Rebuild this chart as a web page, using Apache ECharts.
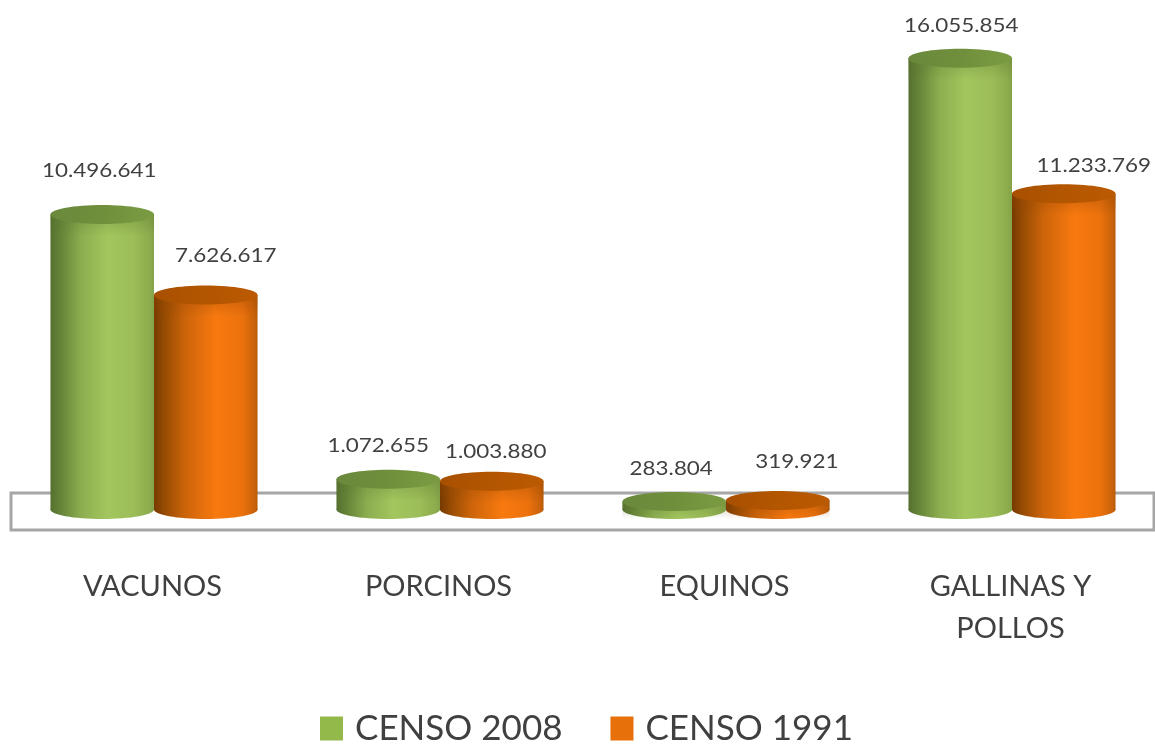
<!DOCTYPE html>
<html><head><meta charset="utf-8">
<style>html,body{margin:0;padding:0;background:#fff}#c{width:1155px;height:745px;filter:blur(0.6px)}</style>
<script src="https://cdn.jsdelivr.net/npm/echarts@6/dist/echarts.min.js"></script>
</head><body><div id="c"></div>
<script>
const categories = ['VACUNOS', 'PORCINOS', 'EQUINOS', 'GALLINAS Y\nPOLLOS'];
const censo2008 = [10496641, 1072655, 283804, 16055854];
const censo1991 = [7626617, 1003880, 319921, 11233769];
const seriesNames = ['CENSO 2008', 'CENSO 1991'];

// label nudges relative to the top of each cylinder [dx, dy]
const nudge2008 = [[-3,-44],[-10,-34],[-3,-33],[1,-33]];
const nudge1991 = [[20,-40],[4,-30],[19,-39],[30,-28]];

const fmt = v => String(v).replace(/\B(?=(\d{3})+(?!\d))/g, '.');
const grad = stops => new echarts.graphic.LinearGradient(0,0,1,0,stops.map(s=>({offset:s[0],color:s[1]})));

const themes = [
  { legend:'#93b94a',
    body:[[0,'#55702f'],[0.1,'#668438'],[0.3,'#8cae50'],[0.55,'#a3c65e'],[0.8,'#9cbd58'],[0.95,'#8dad4e'],[1,'#84a348']],
    cap:[[0,'#6a893c'],[0.5,'#6f8f3c'],[1,'#7b9b42']],
    band:['rgba(90,115,45,0.35)','rgba(90,115,45,0)'] },
  { legend:'#e8700a',
    body:[[0,'#763a00'],[0.1,'#964b03'],[0.3,'#cc640a'],[0.6,'#f8790f'],[0.85,'#ec720d'],[0.97,'#c9620a'],[1,'#b85a08']],
    cap:[[0,'#a85000'],[0.5,'#b35600'],[1,'#bb5a02']],
    band:['rgba(150,70,0,0.4)','rgba(150,70,0,0)'] }
];

function cylinder(th, offsetSign, nudges){
  return function(params, api){
    const i = api.value(0), v = api.value(1);
    const top = api.coord([i, v]), base = api.coord([i, 0]);
    const band = api.size([1,0])[0];
    const w = band * 0.362, rx = w/2, ry = 9.5;
    const cx = top[0] + offsetSign * rx;
    const body = grad(th.body);
    const n = nudges[i];
    return {type:'group', children:[
      {type:'ellipse', shape:{cx, cy:base[1], rx, ry}, style:{fill:body}},
      {type:'rect', shape:{x:cx-rx, y:top[1], width:w, height:base[1]-top[1]}, style:{fill:body}},
      {type:'rect', shape:{x:cx-rx, y:top[1], width:w, height:Math.min(22, base[1]-top[1]+ry)},
        style:{fill:new echarts.graphic.LinearGradient(0,0,0,1,[{offset:0,color:th.band[0]},{offset:1,color:th.band[1]}])}},
      {type:'ellipse', shape:{cx, cy:top[1], rx, ry}, style:{fill:grad(th.cap)}},
      {type:'text', x:cx+n[0], y:top[1]+n[1], scaleX:1.12, scaleY:1,
        style:{x:0, y:0, text:fmt(v), align:'center', verticalAlign:'middle', fill:'#404040', font:'20px Lato'}}
    ]};
  };
}

const chart = echarts.init(document.getElementById('c'), null, {renderer:'canvas'});
chart.setOption({
  animation:false,
  backgroundColor:'#fff',
  grid:{left:11, right:0, top:3.5, height:506, containLabel:false},
  xAxis:{type:'category', data:categories, axisLine:{show:false}, axisTick:{show:false},
    axisLabel:{margin:56, fontSize:29, fontFamily:'Lato', color:'#404040', lineHeight:42, verticalAlign:'top', interval:0, padding:[0,3,0,0]}},
  yAxis:{type:'value', min:0, max:18000000, show:false, splitLine:{show:false}},
  legend:{left:315, top:706, itemWidth:23, itemHeight:24, itemGap:48, icon:'rect',
    data:seriesNames, textStyle:{fontSize:35, fontFamily:'Lato', color:'#404040', padding:[2,0,0,7]}},
  graphic:[{type:'rect', z:0, shape:{x:11, y:493, width:1143, height:37},
    style:{fill:'#fff', stroke:'#a6a6a6', lineWidth:3}}],
  series:[
    {name:seriesNames[0], type:'custom', z:5, itemStyle:{color:themes[0].legend},
     encode:{x:0,y:1}, data:censo2008.map((v,i)=>[i,v]), renderItem:cylinder(themes[0],-1,nudge2008)},
    {name:seriesNames[1], type:'custom', z:5, itemStyle:{color:themes[1].legend},
     encode:{x:0,y:1}, data:censo1991.map((v,i)=>[i,v]), renderItem:cylinder(themes[1],1,nudge1991)}
  ]
});
</script></body></html>
